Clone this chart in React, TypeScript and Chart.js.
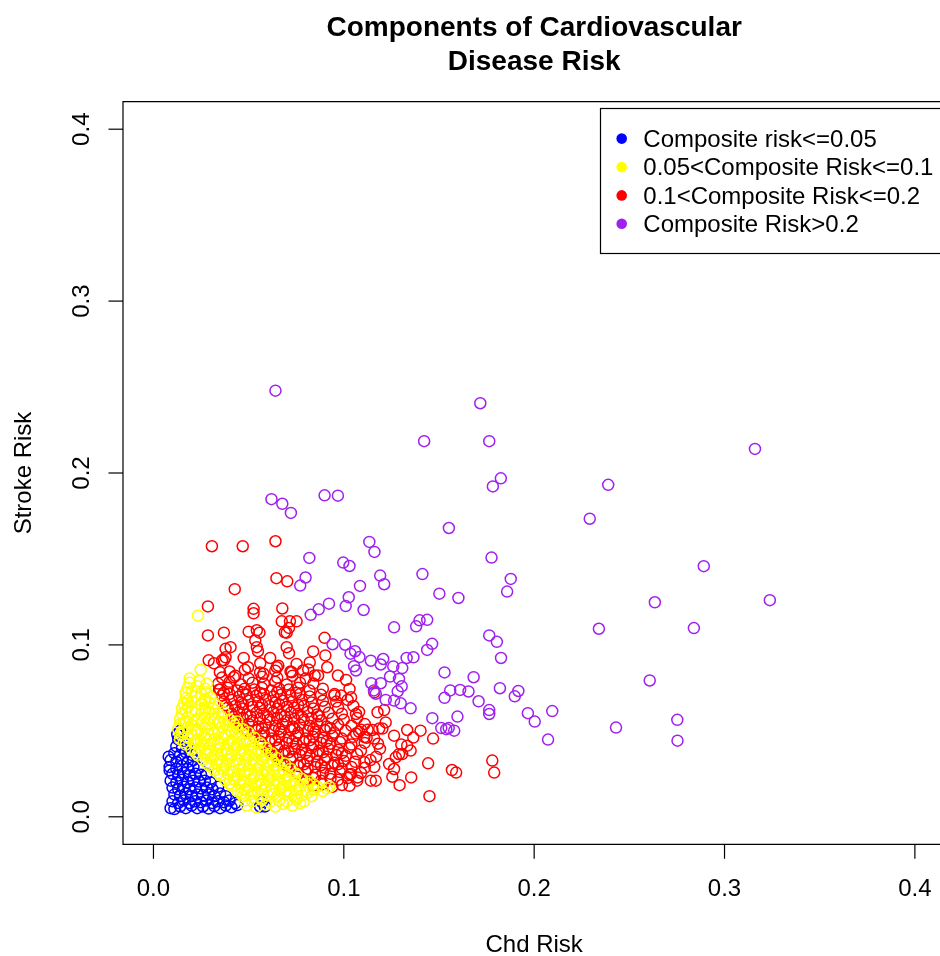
import React, { useEffect, useRef } from "react";
import { Chart, registerables } from "chart.js";

Chart.register(...registerables);

const chartTitle = ["Components of Cardiovascular", "Disease Risk"];
const xAxisTitle = "Chd Risk";
const yAxisTitle = "Stroke Risk";
const xTickValues = [0, 0.1, 0.2, 0.3, 0.4];
const yTickValues = [0, 0.1, 0.2, 0.3, 0.4];
const tickLabels = ["0.0", "0.1", "0.2", "0.3", "0.4"];
const legendLabels = [
  "Composite risk<=0.05",
  "0.05<Composite Risk<=0.1",
  "0.1<Composite Risk<=0.2",
  "Composite Risk>0.2",
];
const seriesColors = ["#0000FF", "#FFFF00", "#FF0000", "#A020F0"];

// Each point: [Chd risk, Stroke risk], both in per-mille (thousandths)
const lowRisk: [number, number][] = [
  [9, 5], [11, 4.5], [14, 6], [17, 5], [20, 6.5], [23, 5], [26, 6], [29, 4.8], [32, 6.2], [35, 5], [38, 6.5], [41, 5.5], [44, 6.8], [56, 6], [58.5, 6],
  [10, 9], [13, 8], [16, 9.5], [19, 8], [22, 9], [25, 8.5], [28, 9.5], [31, 8], [34, 9], [37, 8.5], [40, 9.5], [43, 8], [57, 8.5],
  [11, 13], [14, 12], [17, 13.5], [20, 12], [23, 13], [26, 12.5], [29, 13], [32, 12], [35, 13.5], [38, 12],
  [10, 17], [13, 16], [16, 17.5], [19, 16], [22, 17], [25, 16.5], [28, 17], [31, 16], [34, 17.5],
  [9, 21], [12, 20], [15, 21.5], [18, 20], [21, 21], [24, 20.5], [27, 21], [30, 20],
  [10, 25], [13, 24], [16, 25.5], [19, 24], [22, 25], [25, 24.5], [28, 25],
  [8.5, 29], [12, 28], [15, 29.5], [18, 28], [21, 29], [24, 28.5],
  [9, 33], [12, 32], [15, 33.5], [18, 32], [21, 33],
  [11, 37], [14, 36], [17, 37.5], [20, 36],
  [12, 41], [15, 40], [18, 41.5],
  [13, 45], [16, 44], [12.5, 48], [14, 50], [8, 35], [8.5, 27],
];

const midRisk: [number, number][] = [
  [49, 6.5], [54, 5.5], [59, 7], [64, 6], [68, 7.5], [73, 6.5], [77, 8],
  [48, 9.5], [52, 9], [57, 10], [61, 8.5], [66, 9.5], [70, 9], [75, 10], [79, 9],
  [47, 12], [51, 13], [56, 11.5], [60, 12.5], [65, 12], [69, 13], [74, 11.5], [78, 12.5], [83, 12],
  [44, 15], [48, 16], [53, 14.5], [57, 15.5], [62, 15], [66, 16], [71, 14.5], [75, 15.5], [80, 15], [84, 16], [89, 15],
  [41, 18], [45, 19], [50, 17.5], [54, 18.5], [59, 18], [63, 19], [68, 17.5], [72, 18.5], [77, 18], [81, 19], [86, 17.5], [91, 16.5], [92.5, 17.5],
  [38, 21], [42, 22], [47, 20.5], [51, 21.5], [56, 21], [60, 22], [65, 20.5], [69, 21.5], [74, 21], [78, 22], [82, 20.5],
  [35, 24], [39, 25], [44, 23.5], [48, 24.5], [53, 24], [57, 25], [62, 23.5], [66, 24.5], [71, 24], [75, 25],
  [32, 27], [36, 28], [41, 26.5], [45, 27.5], [50, 27], [54, 28], [59, 26.5], [63, 27.5], [68, 27], [72, 28],
  [29, 30], [33, 31], [38, 29.5], [42, 30.5], [47, 30], [51, 31], [56, 29.5], [60, 30.5], [65, 30], [69, 31],
  [26, 33], [30, 34], [35, 32.5], [39, 33.5], [44, 33], [48, 34], [53, 32.5], [57, 33.5], [62, 33], [65, 34],
  [23, 36], [27, 37], [32, 35.5], [36, 36.5], [41, 36], [45, 37], [50, 35.5], [54, 36.5], [59, 36], [62, 37],
  [20, 39], [24, 40], [29, 38.5], [33, 39.5], [38, 39], [42, 40], [47, 38.5], [51, 39.5], [55, 39], [59, 40],
  [17, 42], [21, 43], [26, 41.5], [30, 42.5], [35, 42], [39, 43], [44, 41.5], [48, 42.5], [52, 42], [56, 43],
  [14, 45], [18, 46], [23, 44.5], [27, 45.5], [32, 45], [36, 46], [41, 44.5], [45, 45.5], [49, 45], [53, 46],
  [14, 48], [16, 49], [20, 47.5], [25, 48.5], [29, 48], [34, 49], [38, 47.5], [43, 48.5], [47, 48], [50, 49],
  [13, 51], [18, 52], [22, 50.5], [27, 51.5], [31, 51], [36, 52], [40, 50.5], [44, 51.5], [47, 51],
  [14, 54], [16, 55], [20, 53.5], [25, 54.5], [29, 54], [34, 55], [38, 53.5], [42, 54.5], [44, 55.5],
  [14, 57], [18, 58], [23, 56.5], [27, 57.5], [32, 57], [36, 58], [40, 56.5],
  [15, 60], [20, 61], [25, 59.5], [29, 60.5], [34, 60], [37, 61],
  [15, 63], [18, 64], [22, 62.5], [27, 63.5], [31, 63], [34, 64],
  [16, 66], [20, 67], [25, 65.5], [29, 66.5], [32, 66],
  [17, 69], [22, 70], [27, 68.5], [30, 69.5],
  [17, 72], [20, 73], [25, 71.5], [28, 72.5],
  [18, 75], [23, 76], [27, 74.5],
  [19, 78], [24, 79], [19, 80.5], [24.8, 85.5], [28, 77.5], [23.4, 117],
  [46, 13.5], [55, 14], [63, 13], [72, 13.5], [81, 14],
  [40, 19.5], [48, 20], [57, 19], [66, 19.5], [75, 20], [84, 19],
  [34, 25.5], [42, 26], [51, 25], [60, 25.5], [69, 26],
  [28, 31.5], [36, 32], [45, 31], [54, 31.5], [63, 32],
  [22, 37.5], [30, 38], [39, 37], [48, 37.5], [57, 38],
  [16, 43.5], [25, 44], [34, 43], [42, 43.5], [51, 44],
  [15, 49.5], [23, 50], [32, 49], [41, 49.5],
  [17, 55.5], [26, 56], [35, 55],
  [17, 61.5], [27, 62],
  [18, 67.5], [27, 67],
];

const highRisk: [number, number][] = [
  [84, 18], [89, 19], [94, 17.5], [99, 18.5], [103, 18],
  [80, 21.5], [84, 22.5], [88, 21], [93, 22], [97, 21.5], [102, 22.5], [107, 21],
  [76, 25], [80, 26], [85, 24.5], [89, 25.5], [93, 25], [98, 26], [103, 24.5], [109, 25.5],
  [72, 28.5], [76, 29.5], [81, 28], [85, 29], [90, 28.5], [94, 29.5], [99, 28], [104, 29], [111, 28.5],
  [68, 32], [72, 33], [77, 31.5], [81, 32.5], [86, 32], [90, 33], [95, 31.5], [100, 32.5], [106, 32], [114, 33],
  [64, 35.5], [68, 36.5], [73, 35], [77, 36], [82, 35.5], [86, 36.5], [91, 35], [96, 36], [101, 35.5], [107, 36.5], [117, 35],
  [61, 39], [65, 40], [69, 38.5], [74, 39.5], [78, 39], [83, 40], [87, 38.5], [92, 39.5], [97, 39], [103, 40], [109, 38.5], [119, 39.5],
  [57, 42.5], [61, 43.5], [66, 42], [70, 43], [75, 42.5], [79, 43.5], [84, 42], [88, 43], [93, 42.5], [98, 43.5], [104, 42], [111, 43], [118, 42.5],
  [53, 46], [57, 47], [62, 45.5], [66, 46.5], [71, 46], [75, 47], [80, 45.5], [84, 46.5], [89, 46], [94, 47], [99, 45.5], [105, 46.5], [112, 46],
  [50, 49.5], [54, 50.5], [58, 49], [63, 50], [67, 49.5], [72, 50.5], [76, 49], [81, 50], [85, 49.5], [90, 50.5], [95, 49], [101, 50], [108, 49.5], [115, 50.5],
  [46, 53], [50, 54], [55, 52.5], [59, 53.5], [64, 53], [68, 54], [73, 52.5], [77, 53.5], [82, 53], [86, 54], [91, 52.5], [97, 53.5], [104, 53], [111, 54],
  [43, 56.5], [47, 57.5], [52, 56], [56, 57], [61, 56.5], [65, 57.5], [70, 56], [74, 57], [79, 56.5], [83, 57.5], [88, 56], [94, 57], [100, 56.5], [107, 57.5],
  [41, 60], [45, 61], [49, 59.5], [54, 60.5], [58, 60], [63, 61], [67, 59.5], [72, 60.5], [76, 60], [81, 61], [86, 59.5], [92, 60.5], [99, 60], [108, 61],
  [39, 63.5], [43, 64.5], [47, 63], [52, 64], [56, 63.5], [61, 64.5], [65, 63], [70, 64], [74, 63.5], [79, 64.5], [84, 63], [90, 64], [97, 63.5], [105, 64.5],
  [37, 67], [41, 68], [46, 66.5], [50, 67.5], [55, 67], [59, 68], [64, 66.5], [68, 67.5], [73, 67], [78, 68], [83, 66.5], [89, 67.5], [96, 67], [102, 68],
  [36, 70.5], [40, 71.5], [45, 70], [49, 71], [54, 70.5], [58, 71.5], [63, 70], [67, 71], [72, 70.5], [77, 71.5], [82, 70], [88, 71], [95, 70.5],
  [35, 74], [39, 75], [44, 73.5], [48, 74.5], [53, 74], [57, 75], [62, 73.5], [66, 74.5], [71, 74], [76, 75], [82, 73.5], [89, 74.5],
  [34, 77.5], [40, 78.5], [46, 77], [52, 78], [58, 77.5], [64, 78.5], [70, 77], [77, 78], [84, 77.5],
  [36, 81], [43, 82], [50, 80.5], [57, 81.5], [65, 81], [73, 82], [80, 80.5],
  [40, 84.5], [48, 85.5], [56, 84], [64, 85], [72, 84.5],
  [70, 30], [79, 30.5], [88, 30], [97, 30.5],
  [63, 37], [71, 37.5], [80, 37], [89, 37.5], [99, 37],
  [56, 44], [64, 44.5], [73, 44], [82, 44.5], [91, 44],
  [48, 51], [57, 51.5], [66, 51], [74, 51.5], [84, 51], [93, 51.5],
  [42, 58], [51, 58.5], [60, 58], [69, 58.5], [78, 58], [87, 58.5],
  [38, 65], [47, 65.5], [57, 65], [66, 65.5], [76, 65],
  [37, 72], [47, 72.5], [56, 72], [65, 72.5], [75, 72],
  [30.7, 157.4], [46.9, 157.4], [64.1, 160.3], [42.7, 132.4], [64.6, 138.8], [70.3, 137.0],
  [28.6, 122.4], [52.6, 121.0], [52.6, 118.4], [67.7, 121.2], [67.4, 113.7], [71.7, 113.7],
  [75.2, 113.7], [71.2, 109.9], [70.0, 107.1], [37.0, 107.1], [28.6, 105.5], [50.0, 107.7],
  [54.3, 108.5], [55.7, 107.1], [53.5, 102.6], [54.3, 98.7], [54.9, 96.3], [40.5, 98.7], [37.9, 97.7],
  [89.9, 104.1], [69.0, 107.3], [70.0, 98.7], [71.2, 95.2], [83.9, 96.2], [90.3, 93.9],
  [47.4, 92.4], [61.3, 92.4], [75.2, 88.9], [64.8, 87.0], [37.9, 92.8], [37.0, 91.0], [49.7, 87.0],
  [91.3, 87.0], [81.3, 85.7], [84.7, 82.2], [96.9, 82.2], [101.2, 79.6], [103.0, 74.4], [95.1, 71.4],
  [98.6, 70.6], [103.8, 69.5], [116.0, 72.4], [117.7, 60.8], [121.2, 62.1], [106.4, 59.8],
  [31.8, 89.3], [56.1, 89.3], [65.6, 87.9], [82.1, 89.8], [34.9, 84.1], [42.2, 81.2], [57.8, 83.2],
  [72.6, 84.1], [78.6, 85.1], [86.5, 82.2], [29, 91], [36, 91], [34.4, 73.9],
  [122.0, 54.9], [133.3, 50.5], [140.3, 50.1], [136.5, 46.1], [146.9, 45.5], [126.4, 47.2],
  [130.2, 42.0], [129.0, 36.4], [144.3, 31.1], [156.8, 27.2], [159.0, 25.7], [178.0, 32.7],
  [179.0, 25.7], [135.4, 22.9], [129.3, 18.4], [145.0, 12.0], [114.2, 21.0], [116.8, 21.0],
  [125.5, 23.3], [126.4, 27.8], [123.8, 30.7], [107.3, 22.9], [103.8, 24.9], [110.8, 31.8],
  [116.0, 28.9], [118.6, 51.3], [120.3, 51.3], [112.5, 50.7], [109.0, 50.7], [116.0, 45.5],
  [110.8, 46.4], [106.4, 48.4], [133.3, 41.4], [135.1, 38.5], [130.7, 36.5], [127.3, 34.6],
];

const veryHighRisk: [number, number][] = [
  [64.1, 247.9], [171.7, 240.6], [142.2, 218.5], [176.4, 218.5], [316.0, 214.0], [182.5, 196.9],
  [178.3, 192.2], [238.9, 193.1], [89.9, 187.0], [96.9, 186.8], [62.0, 184.8], [67.7, 182.1],
  [72.2, 176.8], [229.2, 173.4], [155.2, 168.0], [113.4, 159.9], [116.1, 154.1], [81.9, 150.6],
  [177.6, 150.8], [99.7, 147.9], [103.0, 145.9], [289.1, 145.8], [141.3, 141.2], [79.9, 139.2],
  [77.1, 134.5], [119.1, 140.3], [121.2, 135.3], [108.5, 134.3], [187.7, 138.4], [185.8, 131.0],
  [150.2, 129.8], [160.2, 127.3], [263.4, 124.8], [323.8, 126.0], [102.6, 127.7], [101.0, 122.6],
  [92.2, 124.0], [86.8, 120.7], [82.6, 117.5], [110.4, 120.3], [126.4, 110.2], [139.8, 114.3],
  [143.8, 114.6], [138.0, 110.8], [234.0, 109.4], [283.9, 109.8], [176.4, 105.5], [180.4, 101.8],
  [146.4, 100.6], [143.8, 97.1], [94.1, 100.4], [100.7, 100.1], [105.9, 96.3], [103.5, 94.9],
  [108.2, 92.9], [105.4, 87.6], [106.4, 85.1], [114.2, 90.8], [119.4, 88.6], [120.7, 91.8],
  [126.0, 87.5], [130.7, 86.5], [133.0, 92.4], [136.6, 92.8], [182.6, 92.4], [124.3, 81.6],
  [129.0, 80.2], [152.9, 84.0], [168.2, 81.2], [260.7, 79.3], [114.4, 77.7], [119.4, 77.7],
  [130.4, 75.9], [115.8, 73.5], [116.8, 71.6], [128.3, 73.0], [155.9, 73.5], [161.1, 73.8],
  [165.5, 72.9], [182.0, 74.8], [191.7, 73.2], [189.8, 70.1], [152.9, 69.2], [170.8, 67.2],
  [122.0, 68.0], [126.4, 67.6], [129.9, 66.0], [135.1, 63.1], [176.4, 62.1], [176.4, 59.8],
  [196.7, 60.3], [209.5, 61.5], [200.3, 55.4], [146.5, 57.4], [159.7, 58.3], [275.2, 56.4],
  [243.0, 51.9], [151.2, 51.6], [153.8, 51.0], [155.1, 51.6], [158.0, 50.1], [207.3, 44.9],
  [275.3, 44.3],
];

const seriesPoints = [lowRisk, midRisk, highRisk, veryHighRisk];
// drawing priority: lower order is drawn on top
const seriesOrder = [2, 0, 3, 1];

const FONT = '"Liberation Sans", Arial, Helvetica, sans-serif';

const rStylePlugin = {
  id: "rStyle",
  afterDraw(chart: any) {
    const ctx = chart.ctx as CanvasRenderingContext2D;
    const { left, top, bottom } = chart.chartArea;
    const W = chart.width;
    const xs = chart.scales.x;
    const ys = chart.scales.y;
    ctx.save();
    ctx.strokeStyle = "#000";
    ctx.fillStyle = "#000";
    ctx.lineWidth = 1.2;

    // plot box (right side falls outside the canvas)
    ctx.beginPath();
    ctx.moveTo(W + 20, top);
    ctx.lineTo(left, top);
    ctx.lineTo(left, bottom);
    ctx.lineTo(W + 20, bottom);
    ctx.stroke();

    // x axis ticks and labels
    ctx.font = `24px ${FONT}`;
    ctx.textAlign = "center";
    ctx.textBaseline = "alphabetic";
    xTickValues.forEach((v, i) => {
      const px = xs.getPixelForValue(v);
      ctx.beginPath();
      ctx.moveTo(px, bottom);
      ctx.lineTo(px, bottom + 14.5);
      ctx.stroke();
      ctx.fillText(tickLabels[i], px, bottom + 51.7);
    });

    // y axis ticks and labels (rotated)
    yTickValues.forEach((v, i) => {
      const py = ys.getPixelForValue(v);
      ctx.beginPath();
      ctx.moveTo(left, py);
      ctx.lineTo(left - 14.5, py);
      ctx.stroke();
      ctx.save();
      ctx.translate(left - 33.7, py);
      ctx.rotate(-Math.PI / 2);
      ctx.fillText(tickLabels[i], 0, 0);
      ctx.restore();
    });

    const cx = xs.getPixelForValue(0.2);
    const cy = ys.getPixelForValue(0.2);

    // axis titles
    ctx.fillText(xAxisTitle, cx, 952);
    ctx.save();
    ctx.translate(30.5, cy);
    ctx.rotate(-Math.PI / 2);
    ctx.fillText(yAxisTitle, 0, 0);
    ctx.restore();

    // main title
    ctx.font = `bold 28px ${FONT}`;
    ctx.fillText(chartTitle[0], cx, 35.5);
    ctx.fillText(chartTitle[1], cx, 70);

    // legend
    const lgLeft = 600.5;
    const lgTop = 108.5;
    const lgBottom = 253.5;
    ctx.fillStyle = "#fff";
    ctx.fillRect(lgLeft, lgTop, W + 20 - lgLeft, lgBottom - lgTop);
    ctx.strokeStyle = "#000";
    ctx.lineWidth = 1.2;
    ctx.strokeRect(lgLeft, lgTop, W + 20 - lgLeft, lgBottom - lgTop);
    ctx.font = `24px ${FONT}`;
    ctx.textAlign = "left";
    legendLabels.forEach((lab, i) => {
      const rowY = 138.6 + i * 28.4;
      ctx.fillStyle = seriesColors[i];
      ctx.beginPath();
      ctx.arc(621.7, rowY, 5.3, 0, Math.PI * 2);
      ctx.fill();
      ctx.fillStyle = "#000";
      ctx.fillText(lab, 643.3, rowY + 8.4);
    });
    ctx.restore();
  },
};

export default function App() {
  const canvasRef = useRef<HTMLCanvasElement | null>(null);

  useEffect(() => {
    const canvas = canvasRef.current;
    if (!canvas) return;
    const chart = new Chart(canvas, {
      type: "scatter",
      data: {
        datasets: seriesPoints.map((pts, i) => ({
          label: legendLabels[i],
          data: pts.map(([x, y]) => ({ x: x / 1000, y: y / 1000 })),
          order: seriesOrder[i],
          pointStyle: "circle",
          pointRadius: 5.5,
          pointHoverRadius: 5.5,
          pointBorderWidth: 1.5,
          pointBorderColor: seriesColors[i],
          pointBackgroundColor: "rgba(0,0,0,0)",
          borderColor: seriesColors[i],
          backgroundColor: "rgba(0,0,0,0)",
        })),
      },
      options: {
        responsive: false,
        animation: false,
        devicePixelRatio: 1,
        events: [],
        layout: { padding: { left: 123, right: 0, top: 101.7, bottom: 111.7 } },
        scales: {
          x: { type: "linear", min: -0.016, max: 0.40952, display: false },
          y: { type: "linear", min: -0.016, max: 0.416, display: false },
        },
        plugins: {
          legend: { display: false },
          tooltip: { enabled: false },
          title: { display: false },
        },
      },
      plugins: [rStylePlugin],
    });
    return () => chart.destroy();
  }, []);

  return (
    <div style={{ position: "absolute", left: 0, top: 0, width: 940, height: 956, background: "#fff" }}>
      <canvas ref={canvasRef} width={940} height={956} style={{ display: "block", width: 940, height: 956 }} />
    </div>
  );
}
